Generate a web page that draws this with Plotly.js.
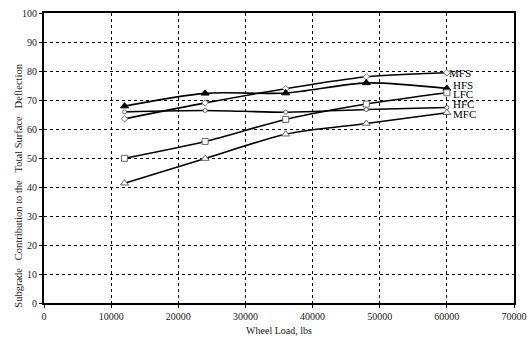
<!DOCTYPE html>
<html>
<head>
<meta charset="utf-8">
<script src="https://cdn.plot.ly/plotly-3.0.1.min.js"></script>
<style>html,body{margin:0;padding:0;background:#fff;}#chart{width:531px;height:341px;}</style>
</head>
<body>
<div id="chart"></div>
<script>
const wheelLoad = [12000, 24000, 36000, 48000, 60000];
const seriesNames = ["MFS", "HFS", "LFC", "HFC", "MFC"];
const mfs = [63.5, 69.0, 73.9, 78.0, 79.4];
const hfs = [67.9, 72.3, 72.4, 75.9, 74.0];
const lfc = [49.9, 55.7, 63.3, 68.6, 72.5];
const hfc = [65.9, 66.4, 65.8, 66.7, 67.4];
const mfc = [41.3, 49.8, 58.2, 61.9, 65.6];
const labelY = [79.4, 75.3, 72.2, 68.6, 65.3];
const xTicks = [0, 10000, 20000, 30000, 40000, 50000, 60000, 70000];
const yTicks = [0, 10, 20, 30, 40, 50, 60, 70, 80, 90, 100];
const yTitle = "Subgrade\u00a0\u00a0\u00a0Contribution to the\u00a0\u00a0\u00a0Total Surface\u00a0\u00a0\u00a0Deflection";
const xTitle = "Wheel Load, lbs";

const values = [mfs, hfs, lfc, hfc, mfc];
const markers = [
  {symbol: "diamond", size: 5, color: "#ffffff", line: {color: "#777", width: 1}},
  {symbol: "triangle-up", size: 7, color: "#000000", line: {color: "#000", width: 1}},
  {symbol: "square", size: 6, color: "#ffffff", line: {color: "#666", width: 1}},
  {symbol: "circle", size: 4, color: "#ffffff", line: {color: "#666", width: 1}},
  {symbol: "triangle-up", size: 7, color: "#ffffff", line: {color: "#666", width: 1}}
];

const traces = values.map((v, i) => ({
  x: wheelLoad, y: v, name: seriesNames[i], type: "scatter", mode: "lines+markers",
  line: {color: "#000", width: 1.6, shape: "spline", smoothing: 0.8},
  marker: markers[i], showlegend: false, cliponaxis: false
}));

const annotations = seriesNames.map((n, i) => ({
  x: wheelLoad[wheelLoad.length - 1], y: labelY[i], xref: "x", yref: "y",
  text: n, showarrow: false, xanchor: "left", yanchor: "middle", xshift: i === 0 ? 1 : 5,
  borderpad: 0,
  font: {family: "Liberation Serif", size: 11, color: "#000"}
}));
annotations.push({
  text: yTitle, xref: "paper", yref: "paper", x: -0.055, y: 0.405,
  xanchor: "center", yanchor: "middle", textangle: -90, showarrow: false,
  font: {family: "Liberation Serif", size: 10.5, color: "#222"}
});

const layout = {
  width: 531, height: 341,
  margin: {l: 44, r: 17, t: 13, b: 38},
  paper_bgcolor: "#fff", plot_bgcolor: "#fff",
  font: {family: "Liberation Serif", size: 10, color: "#222"},
  xaxis: {
    range: [0, 70000], tickvals: xTicks, ticktext: xTicks.map(String),
    showgrid: true, gridcolor: "#000", gridwidth: 1, griddash: "3px,3px",
    showline: true, linecolor: "#000", linewidth: 2, mirror: true,
    ticks: "outside", ticklen: 3, tickcolor: "#000", zeroline: false,
    tickfont: {family: "Liberation Serif", size: 10, color: "#222"},
    title: {text: xTitle, font: {family: "Liberation Serif", size: 10, color: "#222"}, standoff: 6}
  },
  yaxis: {
    range: [0, 100], tickvals: yTicks,
    showgrid: true, gridcolor: "#000", gridwidth: 1, griddash: "3px,3px",
    showline: true, linecolor: "#000", linewidth: 2, mirror: true,
    ticks: "outside", ticklen: 3, tickcolor: "#000", zeroline: false,
    tickfont: {family: "Liberation Serif", size: 10, color: "#222"}
  },
  annotations: annotations
};

Plotly.newPlot("chart", traces, layout, {displayModeBar: false, staticPlot: true});
</script>
</body>
</html>
